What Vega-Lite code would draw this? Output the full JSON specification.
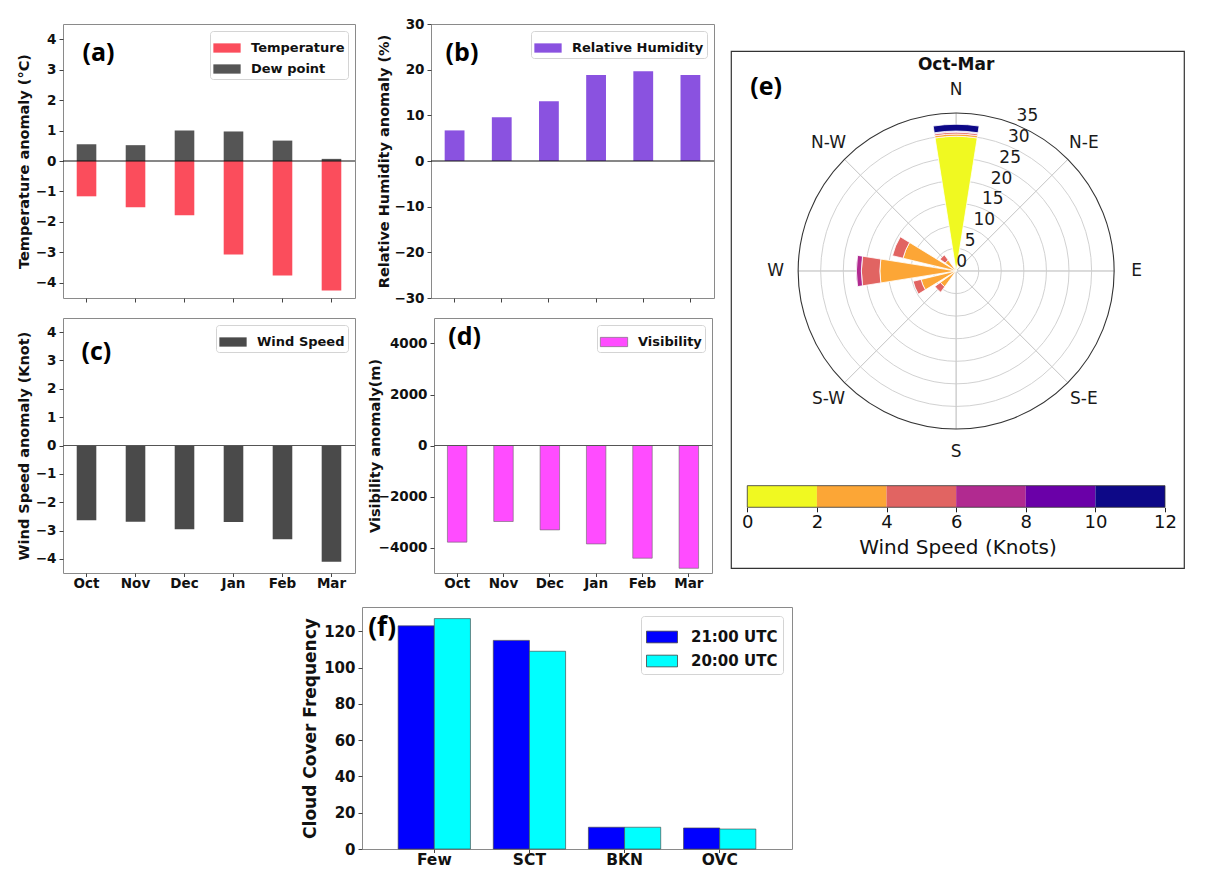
{
  "$schema": "https://vega.github.io/schema/vega-lite/v6.json",
  "background": "white",
  "padding": {"left": 15, "top": 16, "right": 5, "bottom": 5},
  "config": {
    "view": {"stroke": "#8a8a8a", "strokeWidth": 1},
    "font": "DejaVu Sans",
    "axis": {"labelFont": "DejaVu Sans", "labelFontWeight": "bold", "labelFontSize": 13.5, "labelColor": "#111", "titleFont": "DejaVu Sans", "titleFontWeight": "bold", "titleFontSize": 14.5, "titleColor": "#111", "grid": false, "domain": false, "tickColor": "#444", "tickSize": 4, "titlePadding": 4, "labelPadding": 3, "labelOverlap": false},
    "legend": {"orient": "top-right", "offset": 7, "fillColor": "white", "strokeColor": "#d4d4d4", "padding": 3, "cornerRadius": 3, "labelFont": "DejaVu Sans", "labelFontWeight": "bold", "labelFontSize": 13, "labelColor": "#111", "symbolType": "M-1,-0.34H1V0.34H-1Z", "symbolSize": 745, "symbolStrokeWidth": 0, "labelOffset": 10, "rowPadding": 0, "title": null}
  },
  "resolve": {"scale": {"color": "independent", "x": "independent", "y": "independent"}, "legend": {"color": "independent"}},
  "vconcat": [
    {
      "resolve": {"scale": {"color": "independent", "x": "independent", "y": "independent"}, "legend": {"color": "independent"}},
      "hconcat": [
        {
          "resolve": {"scale": {"color": "independent", "x": "independent", "y": "independent"}, "legend": {"color": "independent"}},
          "vconcat": [
            {
              "resolve": {"scale": {"color": "independent", "x": "independent", "y": "independent"}, "legend": {"color": "independent"}},
              "hconcat": [
                {
                  "width": 292, "height": 274,
                  "data": {"values": [
                    {"month": "Oct", "variable": "Temperature", "value": -1.16},
                    {"month": "Nov", "variable": "Temperature", "value": -1.52},
                    {"month": "Dec", "variable": "Temperature", "value": -1.78},
                    {"month": "Jan", "variable": "Temperature", "value": -3.07},
                    {"month": "Feb", "variable": "Temperature", "value": -3.76},
                    {"month": "Mar", "variable": "Temperature", "value": -4.25},
                    {"month": "Oct", "variable": "Dew point", "value": 0.55},
                    {"month": "Nov", "variable": "Dew point", "value": 0.52},
                    {"month": "Dec", "variable": "Dew point", "value": 1.0},
                    {"month": "Jan", "variable": "Dew point", "value": 0.97},
                    {"month": "Feb", "variable": "Dew point", "value": 0.67},
                    {"month": "Mar", "variable": "Dew point", "value": 0.07}
                  ]},
                  "layer": [
                    {
                      "mark": {"type": "bar"},
                      "encoding": {
                        "x": {"field": "month", "type": "nominal", "sort": ["Oct", "Nov", "Dec", "Jan", "Feb", "Mar"], "scale": {"paddingInner": 0.6, "paddingOuter": 0.28}, "axis": {"title": null, "labels": false}},
                        "y": {"field": "value", "type": "quantitative", "stack": null, "scale": {"domain": [-4.5, 4.5], "nice": false}, "axis": {"title": "Temperature anomaly (°C)", "values": [-4, -3, -2, -1, 0, 1, 2, 3, 4]}},
                        "color": {"field": "variable", "type": "nominal", "sort": ["Temperature", "Dew point"], "scale": {"domain": ["Temperature", "Dew point"], "range": ["#fb4d5c", "#555555"]}}
                      }
                    },
                    {"data": {"values": [{}]}, "mark": {"type": "rule", "color": "#111", "strokeWidth": 1.2}, "encoding": {"y": {"datum": 0, "type": "quantitative", "axis": {"title": "Temperature anomaly (°C)", "values": [-4, -3, -2, -1, 0, 1, 2, 3, 4]}}}},
                    {"data": {"values": [{}]}, "mark": {"type": "text", "text": "(a)", "font": "Open Sans", "fontWeight": "bold", "fontSize": 25, "align": "left", "baseline": "middle", "dx": -4, "color": "#000"}, "encoding": {"x": {"datum": "Oct", "axis": {"title": null, "labels": false}}, "y": {"datum": 3.55, "type": "quantitative", "axis": {"title": "Temperature anomaly (°C)", "values": [-4, -3, -2, -1, 0, 1, 2, 3, 4]}}}}
                  ]
                },
                {
                  "width": 283, "height": 274,
                  "data": {"values": [
                    {"month": "Oct", "variable": "Relative Humidity", "value": 6.7},
                    {"month": "Nov", "variable": "Relative Humidity", "value": 9.6},
                    {"month": "Dec", "variable": "Relative Humidity", "value": 13.1},
                    {"month": "Jan", "variable": "Relative Humidity", "value": 18.85},
                    {"month": "Feb", "variable": "Relative Humidity", "value": 19.65},
                    {"month": "Mar", "variable": "Relative Humidity", "value": 18.85}
                  ]},
                  "layer": [
                    {
                      "mark": {"type": "bar"},
                      "encoding": {
                        "x": {"field": "month", "type": "nominal", "sort": ["Oct", "Nov", "Dec", "Jan", "Feb", "Mar"], "scale": {"paddingInner": 0.58, "paddingOuter": 0.29}, "axis": {"title": null, "labels": false}},
                        "y": {"field": "value", "type": "quantitative", "scale": {"domain": [-30, 30], "nice": false}, "axis": {"title": "Relative Humidity anomaly (%)", "values": [-30, -20, -10, 0, 10, 20, 30], "titlePadding": 2}},
                        "color": {"field": "variable", "type": "nominal", "scale": {"domain": ["Relative Humidity"], "range": ["#8a52e0"]}}
                      }
                    },
                    {"data": {"values": [{}]}, "mark": {"type": "rule", "color": "#111", "strokeWidth": 1.2}, "encoding": {"y": {"datum": 0, "type": "quantitative", "axis": {"title": "Relative Humidity anomaly (%)", "values": [-30, -20, -10, 0, 10, 20, 30], "titlePadding": 2}}}},
                    {"data": {"values": [{}]}, "mark": {"type": "text", "text": "(b)", "font": "Open Sans", "fontWeight": "bold", "fontSize": 25, "align": "left", "baseline": "middle", "dx": -9, "color": "#000"}, "encoding": {"x": {"datum": "Oct", "axis": {"title": null, "labels": false}}, "y": {"datum": 23.6, "type": "quantitative", "axis": {"title": "Relative Humidity anomaly (%)", "values": [-30, -20, -10, 0, 10, 20, 30], "titlePadding": 2}}}}
                  ]
                }
              ],
              "spacing": 19
            },
            {
              "resolve": {"scale": {"color": "independent", "x": "independent", "y": "independent"}, "legend": {"color": "independent"}},
              "hconcat": [
                {
                  "width": 292, "height": 255,
                  "data": {"values": [
                    {"month": "Oct", "variable": "Wind Speed", "value": -2.64},
                    {"month": "Nov", "variable": "Wind Speed", "value": -2.69},
                    {"month": "Dec", "variable": "Wind Speed", "value": -2.96},
                    {"month": "Jan", "variable": "Wind Speed", "value": -2.7},
                    {"month": "Feb", "variable": "Wind Speed", "value": -3.31},
                    {"month": "Mar", "variable": "Wind Speed", "value": -4.1}
                  ]},
                  "layer": [
                    {
                      "mark": {"type": "bar"},
                      "encoding": {
                        "x": {"field": "month", "type": "nominal", "sort": ["Oct", "Nov", "Dec", "Jan", "Feb", "Mar"], "scale": {"paddingInner": 0.6, "paddingOuter": 0.28}, "axis": {"title": null, "labelAngle": 0, "labelPadding": 0, "tickSize": 3.5}},
                        "y": {"field": "value", "type": "quantitative", "scale": {"domain": [-4.5, 4.5], "nice": false}, "axis": {"title": "Wind Speed anomaly (Knot)", "values": [-4, -3, -2, -1, 0, 1, 2, 3, 4]}},
                        "color": {"field": "variable", "type": "nominal", "scale": {"domain": ["Wind Speed"], "range": ["#4a4a4a"]}}
                      }
                    },
                    {"data": {"values": [{}]}, "mark": {"type": "rule", "color": "#555", "strokeWidth": 1.2}, "encoding": {"y": {"datum": 0, "type": "quantitative", "axis": {"title": "Wind Speed anomaly (Knot)", "values": [-4, -3, -2, -1, 0, 1, 2, 3, 4]}}}},
                    {"data": {"values": [{}]}, "mark": {"type": "text", "text": "(c)", "font": "Open Sans", "fontWeight": "bold", "fontSize": 25, "align": "left", "baseline": "middle", "dx": -5, "color": "#000"}, "encoding": {"x": {"datum": "Oct", "axis": {"title": null, "labelAngle": 0, "labelPadding": 0, "tickSize": 3.5}}, "y": {"datum": 3.31, "type": "quantitative", "axis": {"title": "Wind Speed anomaly (Knot)", "values": [-4, -3, -2, -1, 0, 1, 2, 3, 4]}}}}
                  ]
                },
                {
                  "width": 278, "height": 255,
                  "data": {"values": [
                    {"month": "Oct", "variable": "Visibility", "value": -3790},
                    {"month": "Nov", "variable": "Visibility", "value": -2980},
                    {"month": "Dec", "variable": "Visibility", "value": -3310},
                    {"month": "Jan", "variable": "Visibility", "value": -3860},
                    {"month": "Feb", "variable": "Visibility", "value": -4420},
                    {"month": "Mar", "variable": "Visibility", "value": -4815}
                  ]},
                  "layer": [
                    {
                      "mark": {"type": "bar", "stroke": "#666", "strokeWidth": 0.6},
                      "encoding": {
                        "x": {"field": "month", "type": "nominal", "sort": ["Oct", "Nov", "Dec", "Jan", "Feb", "Mar"], "scale": {"paddingInner": 0.58, "paddingOuter": 0.29}, "axis": {"title": null, "labelAngle": 0, "labelPadding": 0, "tickSize": 3.5}},
                        "y": {"field": "value", "type": "quantitative", "scale": {"domain": [-5000, 5000], "nice": false}, "axis": {"title": "Visibility anomaly(m)", "values": [-4000, -2000, 0, 2000, 4000], "format": "d", "titlePadding": -4}},
                        "color": {"field": "variable", "type": "nominal", "scale": {"domain": ["Visibility"], "range": ["#ff4cff"]}, "legend": {"symbolStrokeWidth": 0.6, "symbolStrokeColor": "#666"}}
                      }
                    },
                    {"data": {"values": [{}]}, "mark": {"type": "rule", "color": "#555", "strokeWidth": 1.2}, "encoding": {"y": {"datum": 0, "type": "quantitative", "axis": {"title": "Visibility anomaly(m)", "values": [-4000, -2000, 0, 2000, 4000], "format": "d", "titlePadding": -4}}}},
                    {"data": {"values": [{}]}, "mark": {"type": "text", "text": "(d)", "font": "Open Sans", "fontWeight": "bold", "fontSize": 25, "align": "left", "baseline": "middle", "dx": -9, "color": "#000"}, "encoding": {"x": {"datum": "Oct", "axis": {"title": null, "labelAngle": 0, "labelPadding": 0, "tickSize": 3.5}}, "y": {"datum": 4268, "type": "quantitative", "axis": {"title": "Visibility anomaly(m)", "values": [-4000, -2000, 0, 2000, 4000], "format": "d", "titlePadding": -4}}}}
                  ]
                }
              ],
              "spacing": 9
            }
          ],
          "spacing": 12
        },
        {
          "resolve": {"scale": {"color": "independent", "x": "independent", "y": "independent"}, "legend": {"color": "independent"}},
          "vconcat": [
            {"width": 10, "height": 26, "data": {"values": []}, "mark": "point", "view": {"stroke": null}},
            {
              "width": 453, "height": 517,
              "view": {"stroke": "#333", "strokeWidth": 1.2},
              "layer": [
                {
                  "data": {"values": [{"r": 5}, {"r": 10}, {"r": 15}, {"r": 20}, {"r": 25}, {"r": 30}]},
                  "mark": {"type": "arc", "filled": false, "stroke": "#cccccc", "strokeWidth": 0.9, "theta": 0, "theta2": 6.2832},
                  "encoding": {
                    "x": {"datum": 6, "type": "quantitative", "scale": {"domain": [-0.468, 12.546], "nice": false, "zero": false}, "axis": {"orient": "bottom", "offset": -60.7, "values": [0, 2, 4, 6, 8, 10, 12], "format": "d", "title": "Wind Speed (Knots)", "titleFontSize": 20, "titleFontWeight": "normal", "labelFontSize": 18, "labelFontWeight": "normal", "tickColor": "#222", "tickSize": 4.5, "labelPadding": 2, "titlePadding": 6}},
                    "y": {"datum": 0, "type": "quantitative", "scale": {"domain": [-65.8, 48.74], "nice": false, "zero": false}, "axis": null},
                    "radius": {"field": "r", "type": "quantitative", "stack": null, "scale": {"type": "linear", "domain": [0, 35], "range": [0, 158], "nice": false, "zero": true}}
                  }
                },
                {
                  "data": {"values": [{"d": 0}, {"d": 45}, {"d": 90}, {"d": 135}, {"d": 180}, {"d": 225}, {"d": 270}, {"d": 315}]},
                  "mark": {"type": "arc", "filled": false, "stroke": "#cccccc", "strokeWidth": 0.9},
                  "encoding": {
                    "x": {"datum": 6, "type": "quantitative", "scale": {"domain": [-0.468, 12.546], "nice": false, "zero": false}, "axis": {"orient": "bottom", "offset": -60.7, "values": [0, 2, 4, 6, 8, 10, 12], "format": "d", "title": "Wind Speed (Knots)", "titleFontSize": 20, "titleFontWeight": "normal", "labelFontSize": 18, "labelFontWeight": "normal", "tickColor": "#222", "tickSize": 4.5, "labelPadding": 2, "titlePadding": 6}},
                    "y": {"datum": 0, "type": "quantitative", "scale": {"domain": [-65.8, 48.74], "nice": false, "zero": false}, "axis": null},
                    "theta": {"field": "d", "type": "quantitative", "stack": null, "scale": {"type": "linear", "domain": [0, 360], "range": [0, 6.283185307], "nice": false, "zero": false}},
                    "theta2": {"field": "d"},
                    "radius": {"datum": 35, "type": "quantitative", "scale": {"type": "linear", "domain": [0, 35], "range": [0, 158], "nice": false, "zero": true}},
                    "radius2": {"datum": 0}
                  }
                },
                {
                  "data": {"values": [
                    {"dir": 0, "bin": "0-2", "order": 1, "freq": 29.85},
                    {"dir": 0, "bin": "2-4", "order": 2, "freq": 0.5},
                    {"dir": 0, "bin": "4-6", "order": 3, "freq": 0.4},
                    {"dir": 0, "bin": "6-8", "order": 4, "freq": 0.15},
                    {"dir": 0, "bin": "8-10", "order": 5, "freq": 0.1},
                    {"dir": 0, "bin": "10-12", "order": 6, "freq": 1.5},
                    {"dir": 270, "bin": "0-2", "order": 1, "freq": 0.2},
                    {"dir": 270, "bin": "2-4", "order": 2, "freq": 16.7},
                    {"dir": 270, "bin": "4-6", "order": 3, "freq": 4.1},
                    {"dir": 270, "bin": "6-8", "order": 4, "freq": 1.1},
                    {"dir": 292.5, "bin": "0-2", "order": 1, "freq": 0.1},
                    {"dir": 292.5, "bin": "2-4", "order": 2, "freq": 12.0},
                    {"dir": 292.5, "bin": "4-6", "order": 3, "freq": 2.4},
                    {"dir": 247.5, "bin": "0-2", "order": 1, "freq": 0.1},
                    {"dir": 247.5, "bin": "2-4", "order": 2, "freq": 7.9},
                    {"dir": 247.5, "bin": "4-6", "order": 3, "freq": 1.8},
                    {"dir": 315, "bin": "0-2", "order": 1, "freq": 0.1},
                    {"dir": 315, "bin": "2-4", "order": 2, "freq": 2.9},
                    {"dir": 315, "bin": "4-6", "order": 3, "freq": 1.4},
                    {"dir": 225, "bin": "0-2", "order": 1, "freq": 0.1},
                    {"dir": 225, "bin": "2-4", "order": 2, "freq": 4.2},
                    {"dir": 225, "bin": "4-6", "order": 3, "freq": 1.5}
                  ]},
                  "transform": [
                    {"stack": "freq", "groupby": ["dir"], "sort": [{"field": "order", "order": "ascending"}], "as": ["r0", "r1"]},
                    {"calculate": "datum.dir - 9", "as": "a0"},
                    {"calculate": "datum.dir + 9", "as": "a1"}
                  ],
                  "mark": {"type": "arc", "stroke": "white", "strokeWidth": 0.8},
                  "encoding": {
                    "x": {"datum": 6, "type": "quantitative", "scale": {"domain": [-0.468, 12.546], "nice": false, "zero": false}, "axis": {"orient": "bottom", "offset": -60.7, "values": [0, 2, 4, 6, 8, 10, 12], "format": "d", "title": "Wind Speed (Knots)", "titleFontSize": 20, "titleFontWeight": "normal", "labelFontSize": 18, "labelFontWeight": "normal", "tickColor": "#222", "tickSize": 4.5, "labelPadding": 2, "titlePadding": 6}},
                    "y": {"datum": 0, "type": "quantitative", "scale": {"domain": [-65.8, 48.74], "nice": false, "zero": false}, "axis": null},
                    "theta": {"field": "a0", "type": "quantitative", "stack": null, "scale": {"type": "linear", "domain": [0, 360], "range": [0, 6.283185307], "nice": false, "zero": false}},
                    "theta2": {"field": "a1"},
                    "radius": {"field": "r1", "type": "quantitative", "stack": null, "scale": {"type": "linear", "domain": [0, 35], "range": [0, 158], "nice": false, "zero": true}},
                    "radius2": {"field": "r0"},
                    "color": {"field": "bin", "type": "nominal", "scale": {"domain": ["0-2", "2-4", "4-6", "6-8", "8-10", "10-12"], "range": ["#f0f921", "#fca636", "#e16462", "#b12a90", "#6a00a8", "#0d0887"]}, "legend": null}
                  }
                },
                {
                  "data": {"values": [{"r": 35}]},
                  "mark": {"type": "arc", "filled": false, "stroke": "#333333", "strokeWidth": 1.1, "theta": 0, "theta2": 6.2832},
                  "encoding": {
                    "x": {"datum": 6, "type": "quantitative", "scale": {"domain": [-0.468, 12.546], "nice": false, "zero": false}, "axis": {"orient": "bottom", "offset": -60.7, "values": [0, 2, 4, 6, 8, 10, 12], "format": "d", "title": "Wind Speed (Knots)", "titleFontSize": 20, "titleFontWeight": "normal", "labelFontSize": 18, "labelFontWeight": "normal", "tickColor": "#222", "tickSize": 4.5, "labelPadding": 2, "titlePadding": 6}},
                    "y": {"datum": 0, "type": "quantitative", "scale": {"domain": [-65.8, 48.74], "nice": false, "zero": false}, "axis": null},
                    "radius": {"field": "r", "type": "quantitative", "stack": null, "scale": {"type": "linear", "domain": [0, 35], "range": [0, 158], "nice": false, "zero": true}}
                  }
                },
                {
                  "data": {"values": [{"d": 0, "lab": "N"}, {"d": 45, "lab": "N-E"}, {"d": 90, "lab": "E"}, {"d": 135, "lab": "S-E"}, {"d": 180, "lab": "S"}, {"d": 225, "lab": "S-W"}, {"d": 270, "lab": "W"}, {"d": 315, "lab": "N-W"}]},
                  "mark": {"type": "text", "font": "DejaVu Sans", "fontSize": 17, "align": "center", "baseline": "middle", "color": "#1a1a1a"},
                  "encoding": {
                    "x": {"datum": 6, "type": "quantitative", "scale": {"domain": [-0.468, 12.546], "nice": false, "zero": false}, "axis": {"orient": "bottom", "offset": -60.7, "values": [0, 2, 4, 6, 8, 10, 12], "format": "d", "title": "Wind Speed (Knots)", "titleFontSize": 20, "titleFontWeight": "normal", "labelFontSize": 18, "labelFontWeight": "normal", "tickColor": "#222", "tickSize": 4.5, "labelPadding": 2, "titlePadding": 6}},
                    "y": {"datum": 0, "type": "quantitative", "scale": {"domain": [-65.8, 48.74], "nice": false, "zero": false}, "axis": null},
                    "theta": {"field": "d", "type": "quantitative", "stack": null, "scale": {"type": "linear", "domain": [0, 360], "range": [0, 6.283185307], "nice": false, "zero": false}},
                    "radius": {"datum": 40, "type": "quantitative", "scale": {"type": "linear", "domain": [0, 35], "range": [0, 158], "nice": false, "zero": true}},
                    "text": {"field": "lab"}
                  }
                },
                {
                  "data": {"values": [{"r": 0}, {"r": 5}, {"r": 10}, {"r": 15}, {"r": 20}, {"r": 25}, {"r": 30}, {"r": 35}]},
                  "mark": {"type": "text", "font": "DejaVu Sans", "fontSize": 17, "align": "left", "baseline": "bottom", "color": "#1a1a1a"},
                  "encoding": {
                    "x": {"datum": 6, "type": "quantitative", "scale": {"domain": [-0.468, 12.546], "nice": false, "zero": false}, "axis": {"orient": "bottom", "offset": -60.7, "values": [0, 2, 4, 6, 8, 10, 12], "format": "d", "title": "Wind Speed (Knots)", "titleFontSize": 20, "titleFontWeight": "normal", "labelFontSize": 18, "labelFontWeight": "normal", "tickColor": "#222", "tickSize": 4.5, "labelPadding": 2, "titlePadding": 6}},
                    "y": {"datum": 0, "type": "quantitative", "scale": {"domain": [-65.8, 48.74], "nice": false, "zero": false}, "axis": null},
                    "theta": {"datum": 22.5, "type": "quantitative", "scale": {"type": "linear", "domain": [0, 360], "range": [0, 6.283185307], "nice": false, "zero": false}},
                    "radius": {"field": "r", "type": "quantitative", "stack": null, "scale": {"type": "linear", "domain": [0, 35], "range": [0, 158], "nice": false, "zero": true}},
                    "text": {"field": "r", "type": "quantitative", "format": "d"}
                  }
                },
                {
                  "data": {"values": [{"bin": "0-2", "lo": 0, "hi": 2}, {"bin": "2-4", "lo": 2, "hi": 4}, {"bin": "4-6", "lo": 4, "hi": 6}, {"bin": "6-8", "lo": 6, "hi": 8}, {"bin": "8-10", "lo": 8, "hi": 10}, {"bin": "10-12", "lo": 10, "hi": 12}]},
                  "mark": {"type": "rect"},
                  "encoding": {
                    "x": {"field": "lo", "type": "quantitative", "stack": null, "scale": {"domain": [-0.468, 12.546], "nice": false, "zero": false}, "axis": {"orient": "bottom", "offset": -60.7, "values": [0, 2, 4, 6, 8, 10, 12], "format": "d", "title": "Wind Speed (Knots)", "titleFontSize": 20, "titleFontWeight": "normal", "labelFontSize": 18, "labelFontWeight": "normal", "tickColor": "#222", "tickSize": 4.5, "labelPadding": 2, "titlePadding": 6}},
                    "x2": {"field": "hi"},
                    "y": {"datum": -47.56, "type": "quantitative", "scale": {"domain": [-65.8, 48.74], "nice": false, "zero": false}, "axis": null},
                    "y2": {"datum": -52.35},
                    "color": {"field": "bin", "type": "nominal", "scale": {"domain": ["0-2", "2-4", "4-6", "6-8", "8-10", "10-12"], "range": ["#f0f921", "#fca636", "#e16462", "#b12a90", "#6a00a8", "#0d0887"]}, "legend": null}
                  }
                },
                {
                  "data": {"values": [{}]},
                  "mark": {"type": "rect", "filled": false, "stroke": "#333", "strokeWidth": 0.8},
                  "encoding": {
                    "x": {"datum": 0, "type": "quantitative", "scale": {"domain": [-0.468, 12.546], "nice": false, "zero": false}, "axis": {"orient": "bottom", "offset": -60.7, "values": [0, 2, 4, 6, 8, 10, 12], "format": "d", "title": "Wind Speed (Knots)", "titleFontSize": 20, "titleFontWeight": "normal", "labelFontSize": 18, "labelFontWeight": "normal", "tickColor": "#222", "tickSize": 4.5, "labelPadding": 2, "titlePadding": 6}},
                    "x2": {"datum": 12},
                    "y": {"datum": -47.56, "type": "quantitative", "scale": {"domain": [-65.8, 48.74], "nice": false, "zero": false}, "axis": null},
                    "y2": {"datum": -52.35}
                  }
                },
                {
                  "data": {"values": [{}]},
                  "mark": {"type": "text", "text": "Oct-Mar", "font": "DejaVu Sans", "fontWeight": "bold", "fontSize": 17, "align": "center", "baseline": "middle", "color": "#111"},
                  "encoding": {
                    "x": {"datum": 6, "type": "quantitative", "scale": {"domain": [-0.468, 12.546], "nice": false, "zero": false}, "axis": {"orient": "bottom", "offset": -60.7, "values": [0, 2, 4, 6, 8, 10, 12], "format": "d", "title": "Wind Speed (Knots)", "titleFontSize": 20, "titleFontWeight": "normal", "labelFontSize": 18, "labelFontWeight": "normal", "tickColor": "#222", "tickSize": 4.5, "labelPadding": 2, "titlePadding": 6}},
                    "y": {"datum": 45.64, "type": "quantitative", "scale": {"domain": [-65.8, 48.74], "nice": false, "zero": false}, "axis": null}
                  }
                },
                {
                  "data": {"values": [{}]},
                  "mark": {"type": "text", "text": "(e)", "font": "Open Sans", "fontWeight": "bold", "fontSize": 25, "align": "center", "baseline": "middle", "color": "#000"},
                  "encoding": {
                    "x": {"datum": 0.54, "type": "quantitative", "scale": {"domain": [-0.468, 12.546], "nice": false, "zero": false}, "axis": {"orient": "bottom", "offset": -60.7, "values": [0, 2, 4, 6, 8, 10, 12], "format": "d", "title": "Wind Speed (Knots)", "titleFontSize": 20, "titleFontWeight": "normal", "labelFontSize": 18, "labelFontWeight": "normal", "tickColor": "#222", "tickSize": 4.5, "labelPadding": 2, "titlePadding": 6}},
                    "y": {"datum": 40.76, "type": "quantitative", "scale": {"domain": [-65.8, 48.74], "nice": false, "zero": false}, "axis": null}
                  }
                }
              ]
            }
          ],
          "spacing": 0
        }
      ],
      "spacing": 14
    },
    {
      "resolve": {"scale": {"color": "independent", "x": "independent", "y": "independent"}, "legend": {"color": "independent"}},
      "hconcat": [
        {"width": 220, "height": 10, "data": {"values": []}, "mark": "point", "view": {"stroke": null}},
        {
          "width": 430, "height": 242,
          "data": {"values": [
            {"cover": "Few", "time": "21:00 UTC", "freq": 123},
            {"cover": "Few", "time": "20:00 UTC", "freq": 127},
            {"cover": "SCT", "time": "21:00 UTC", "freq": 115},
            {"cover": "SCT", "time": "20:00 UTC", "freq": 109},
            {"cover": "BKN", "time": "21:00 UTC", "freq": 12},
            {"cover": "BKN", "time": "20:00 UTC", "freq": 12},
            {"cover": "OVC", "time": "21:00 UTC", "freq": 11.6},
            {"cover": "OVC", "time": "20:00 UTC", "freq": 11}
          ]},
          "layer": [
            {
              "mark": {"type": "bar", "stroke": "#444", "strokeWidth": 0.8, "strokeOpacity": 0.8},
              "encoding": {
                "x": {"field": "cover", "type": "nominal", "sort": ["Few", "SCT", "BKN", "OVC"], "scale": {"paddingInner": 0.24, "paddingOuter": 0.38}, "axis": {"title": null, "labelAngle": 0, "labelFontSize": 15.5, "labelPadding": 0, "tickSize": 3.5}},
                "xOffset": {"field": "time", "type": "nominal", "sort": ["21:00 UTC", "20:00 UTC"], "scale": {"paddingInner": 0, "paddingOuter": 0}},
                "y": {"field": "freq", "type": "quantitative", "stack": null, "scale": {"domain": [0, 133.4], "nice": false}, "axis": {"title": "Cloud Cover Frequency", "values": [0, 20, 40, 60, 80, 100, 120], "labelFontSize": 15, "titleFontSize": 17}},
                "color": {"field": "time", "type": "nominal", "sort": ["21:00 UTC", "20:00 UTC"], "scale": {"domain": ["21:00 UTC", "20:00 UTC"], "range": ["#0000ff", "#00ffff"]}, "legend": {"offset": 9, "symbolType": "M-1,-0.377H1V0.377H-1Z", "symbolSize": 961, "symbolStrokeWidth": 0.8, "symbolStrokeColor": "#444", "labelFontSize": 15, "labelOffset": 13, "rowPadding": 0, "padding": 5}}
              }
            },
            {"data": {"values": [{}]}, "mark": {"type": "text", "text": "(f)", "font": "Open Sans", "fontWeight": "bold", "fontSize": 26, "align": "left", "baseline": "middle", "dx": -66, "color": "#000"}, "encoding": {"x": {"datum": "Few", "axis": {"title": null, "labelAngle": 0, "labelFontSize": 15.5, "labelPadding": 0, "tickSize": 3.5}}, "y": {"datum": 121.8, "type": "quantitative", "axis": {"title": "Cloud Cover Frequency", "values": [0, 20, 40, 60, 80, 100, 120], "labelFontSize": 15, "titleFontSize": 17}}}}
          ]
        }
      ],
      "spacing": 18
    }
  ],
  "spacing": 15
}
